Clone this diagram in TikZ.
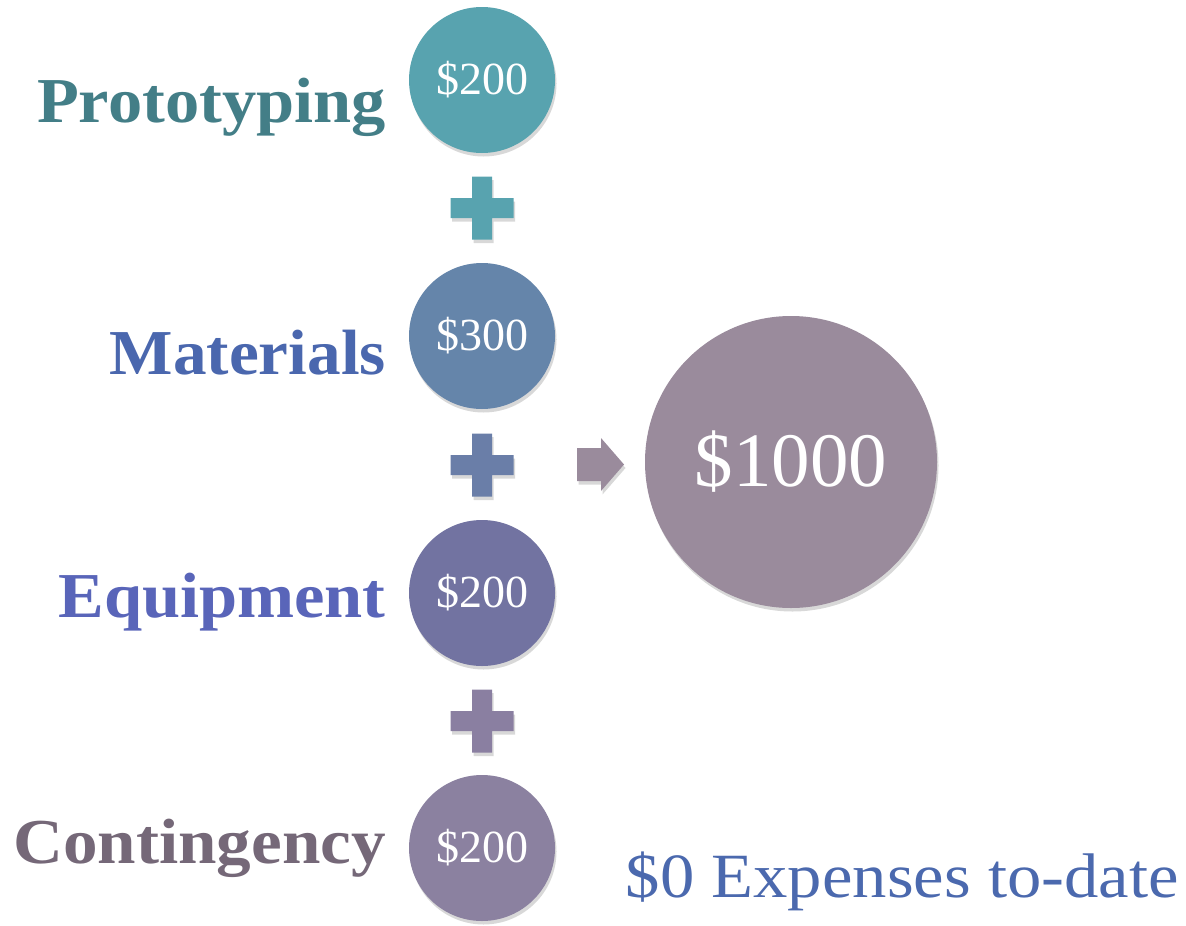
\documentclass[tikz,border=0pt]{standalone}
\usepackage{fontspec}
\setmainfont{Liberation Serif}
\usetikzlibrary{shadows}

\definecolor{protoC}{HTML}{58A3AF}
\definecolor{matC}{HTML}{6585AA}
\definecolor{equipC}{HTML}{7273A1}
\definecolor{contC}{HTML}{8B81A0}
\definecolor{totalC}{HTML}{9A8B9C}
\definecolor{plusB}{HTML}{6A7EA8}
\definecolor{plusC}{HTML}{8A7FA1}
\definecolor{protoT}{HTML}{437E87}
\definecolor{matT}{HTML}{4A67AE}
\definecolor{equipT}{HTML}{5965B9}
\definecolor{contT}{HTML}{756878}
\definecolor{spentT}{HTML}{4B69AE}

% slightly wider lettering
\newcommand{\labeltext}[2][1.07]{\scalebox{#1}[1]{#2}}

\tikzset{
  soft/.style={drop shadow={shadow xshift=1.5pt, shadow yshift=-3.5pt, opacity=0.22, fill=black!70}},
  cost/.style={circle, minimum size=146pt, inner sep=0pt, text=white, soft,
    font=\fontsize{46}{46}\selectfont},
  item/.style={anchor=base east, inner sep=0pt, font=\bfseries\fontsize{64}{64}\selectfont},
}

\begin{document}
\begin{tikzpicture}[x=1pt, y=-1pt]
\useasboundingbox (0,0) rectangle (1186,926);

% the four budget lines
\node[cost, fill=protoC] (proto) at (482,80) {\$200};
\node[cost, fill=matC] (mat) at (482,336) {\$300};
\node[cost, fill=equipC] (equip) at (482,593) {\$200};
\node[cost, fill=contC] (cont) at (482,848) {\$200};

\node[item, text=protoT] (lproto) at (386,122) {\labeltext{Prototyping}};
\node[item, text=matT] (lmat) at (386,374) {\labeltext[1.05]{Materials}};
\node[item, text=equipT] (lequip) at (386,617) {\labeltext{Equipment}};
\node[item, text=contT] (lcont) at (386,863) {\labeltext[1.08]{Contingency}};

% plus signs between the circles
\foreach \y/\c in {208/protoC, 465/plusB, 721/plusC}
  \fill[\c, soft, shift={(482,\y)}]
    (-10,-31.5) -- (10,-31.5) -- (10,-10) -- (31.5,-10) -- (31.5,10) -- (10,10)
    -- (10,31.5) -- (-10,31.5) -- (-10,10) -- (-31.5,10) -- (-31.5,-10) -- (-10,-10) -- cycle;

% block arrow and the total
\fill[totalC, soft] (577,448) -- (601,448) -- (601,438) -- (624,464.5)
  -- (601,491) -- (601,481) -- (577,481) -- cycle;
\node[circle, minimum size=292pt, inner sep=0pt, fill=totalC, text=white, soft,
  font=\fontsize{77}{77}\selectfont] (total) at (791,462) {\$1000};

\node[anchor=base east, inner sep=0pt, text=spentT, font=\fontsize{63}{63}\selectfont]
  (spent) at (1179,897) {\labeltext[1.09]{\$0 Expenses to-date}};
\end{tikzpicture}
\end{document}
